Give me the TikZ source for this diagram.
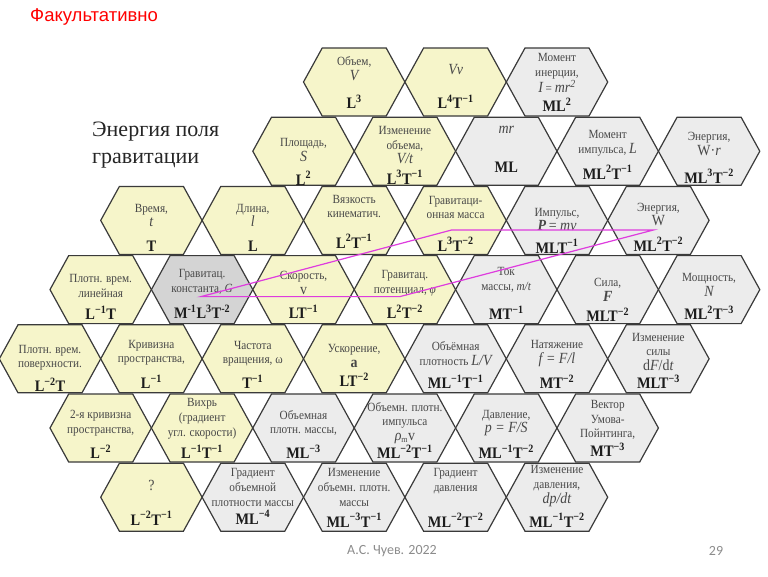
\documentclass[tikz,border=0pt]{standalone}
\usepackage{fontspec}
\setmainfont{Liberation Serif}
\newfontfamily\arialf{Liberation Sans}
\newfontfamily\footf{Carlito}
\newfontfamily\cellfont[FakeStretch=0.9]{Liberation Serif}
\usetikzlibrary{calc}
\definecolor{hexyellow}{RGB}{246,245,202}
\definecolor{hexgrey}{RGB}{236,236,236}
\definecolor{hexdark}{RGB}{212,212,212}
\definecolor{hexline}{RGB}{58,58,58}
\definecolor{lbltext}{RGB}{72,72,72}
\definecolor{dimtext}{RGB}{28,28,28}
\definecolor{magline}{RGB}{222,60,222}
\definecolor{footgrey}{RGB}{140,140,140}
\newcommand\sups[1]{\textsuperscript{#1}}
\newcommand\bigsym{\fontsize{15.5}{15.5}\selectfont}
% name, column, row, fill, label, label dy, dimension, dimension dy
\newcommand\hexcell[8]{%
  \pgfmathsetmacro\hx{50+50.7*#2}%
  \pgfmathsetmacro\hy{82+69.2*#3}%
  \coordinate (#1) at (\hx,\hy);
  \draw[hexborder,fill=#4,shift={(\hx,\hy)}] (-50.7,0) -- (-32,-34) -- (32,-34) -- (50.7,0) -- (32,34) -- (-32,34) -- cycle;
  \node[lbl] (#1-t) at (\hx,{\hy+#6}) {#5};
  \node[dimtxt] (#1-d) at (\hx,{\hy+#8}) {#7};
}
\tikzset{
  hexborder/.style={draw=hexline, line width=1.2pt, line join=miter},
  lbl/.style={align=center, inner sep=0pt, text=lbltext, font=\cellfont\fontsize{12.5}{14.8}\selectfont},
  dimtxt/.style={inner sep=0pt, text=dimtext, font=\cellfont\fontsize{16}{17}\selectfont\bfseries},
  magedge/.style={draw=magline, line width=1.2pt}
}
\begin{document}
\begin{tikzpicture}[x=1pt,y=-1pt]
\useasboundingbox (0,0) rectangle (768,576);
\fill[white] (0,0) rectangle (768,576);

\node[anchor=west, inner sep=0pt, text=red, font=\arialf\fontsize{18.5}{22}\selectfont] (title) at (30,17) {Факультативно};
\node[anchor=west, align=left, inner sep=0pt, text=black!85, font=\fontsize{22}{27.5}\selectfont] (heading) at (92,145) {Энергия поля\\гравитации};

% row 1
\hexcell{vol}{6}{0}{hexyellow}{Объем,\\{\bigsym\itshape V}}{-13}{L\sups{3}}{20}
\hexcell{vv}{8}{0}{hexyellow}{{\bigsym\itshape Vv}}{-12}{L\sups{4}T\sups{−1}}{20}
\hexcell{inert}{10}{0}{hexgrey}{Момент\\инерции,\\{\bigsym\itshape I} = {\bigsym\itshape mr\sups{2}}}{-9}{ML\sups{2}}{23}
% row 2
\hexcell{area}{5}{1}{hexyellow}{Площадь,\\{\bigsym\itshape S}}{-1}{L\sups{2}}{27}
\hexcell{dvol}{7}{1}{hexyellow}{Изменение\\объема,\\{\bigsym\itshape V/t}}{-6}{L\sups{3}T\sups{−1}}{26}
\hexcell{mr}{9}{1}{hexgrey}{{\bigsym\itshape mr}}{-21}{ML}{16}
\hexcell{angm}{11}{1}{hexgrey}{Момент\\импульса, {\bigsym\itshape L}}{-8}{ML\sups{2}T\sups{−1}}{21}
\hexcell{wr}{13}{1}{hexgrey}{Энергия,\\{\bigsym W·\textit{r}}}{-7}{ML\sups{3}T\sups{−2}}{25}
% row 3
\hexcell{time}{2}{2}{hexyellow}{Время,\\{\bigsym\itshape t}}{-5}{T}{26}
\hexcell{len}{4}{2}{hexyellow}{Длина,\\{\bigsym\itshape l}}{-5}{L}{26}
\hexcell{visc}{6}{2}{hexyellow}{Вязкость\\кинематич.}{-14}{L\sups{2}T\sups{−1}}{21}
\hexcell{gmass}{8}{2}{hexyellow}{Гравитаци-\\онная масса}{-13}{L\sups{3}T\sups{−2}}{24}
\hexcell{mom}{10}{2}{hexgrey}{Импульс,\\{\bigsym\bfseries\itshape P} {\bigsym = \itshape mv}}{-1}{MLT\sups{−1}}{26}
\hexcell{energy}{12}{2}{hexgrey}{Энергия,\\{\bigsym W}}{-6}{ML\sups{2}T\sups{−2}}{24}
% row 4
\hexcell{lintd}{1}{3}{hexyellow}{Плотн. врем.\\линейная}{-4}{L\sups{−1}T}{23}
\hexcell{gc}{3}{3}{hexdark}{Гравитац.\\константа, \textit{G}}{-8}{M\sups{-1}L\sups{3}T\sups{-2}}{22}
\hexcell{vel}{5}{3}{hexyellow}{Скорость,\\{\bigsym v}}{-7}{LT\sups{−1}}{22}
\hexcell{gp}{7}{3}{hexyellow}{Гравитац.\\потенциал, \textit{φ}}{-6}{L\sups{2}T\sups{−2}}{22}
\hexcell{mflow}{9}{3}{hexgrey}{Ток\\массы, \textit{m/t}}{-10}{MT\sups{−1}}{23}
\hexcell{force}{11}{3}{hexgrey}{Сила,\\{\bigsym\bfseries\itshape F}}{0}{MLT\sups{−2}}{25}
\hexcell{power}{13}{3}{hexgrey}{Мощность,\\{\bigsym\itshape N}}{-5}{ML\sups{2}T\sups{−3}}{23}
% row 5
\hexcell{surftd}{0}{4}{hexyellow}{Плотн. врем.\\поверхности.}{-1}{L\sups{−2}T}{26}
\hexcell{curv}{2}{4}{hexyellow}{Кривизна\\пространства,}{-6}{L\sups{−1}}{23}
\hexcell{freq}{4}{4}{hexyellow}{Частота\\вращения, ω}{-5}{T\sups{−1}}{23}
\hexcell{acc}{6}{4}{hexyellow}{Ускорение,\\{\bigsym\bfseries a}}{-3}{LT\sups{−2}}{21}
\hexcell{lvdens}{8}{4}{hexgrey}{Объёмная\\плотность {\bigsym\itshape L/V}}{-5}{ML\sups{−1}T\sups{−1}}{23}
\hexcell{tens}{10}{4}{hexgrey}{Натяжение\\{\bigsym\itshape f = F/l}}{-5}{MT\sups{−2}}{23}
\hexcell{dforce}{12}{4}{hexgrey}{Изменение\\силы\\{\bigsym d\textit{F}/d\textit{t}}}{-7}{MLT\sups{−3}}{23}
% row 6
\hexcell{curv2}{1}{5}{hexyellow}{2-я кривизна\\пространства,}{-5}{L\sups{−2}}{24}
\hexcell{vort}{3}{5}{hexyellow}{Вихрь\\(градиент\\угл. скорости)}{-9}{L\sups{−1}T\sups{−1}}{24}
\hexcell{mdens}{5}{5}{hexgrey}{Объемная\\плотн. массы,}{-5}{ML\sups{−3}}{24}
\hexcell{pdens}{7}{5}{hexgrey}{Объемн. плотн.\\импульса\\{\bigsym\itshape ρ}\textsubscript{m}{\bigsym v}}{-5}{ML\sups{−2}T\sups{−1}}{24}
\hexcell{press}{9}{5}{hexgrey}{Давление,\\{\bigsym\itshape p = F/S}}{-5}{ML\sups{−1}T\sups{−2}}{24}
\hexcell{umov}{11}{5}{hexgrey}{Вектор\\Умова-\\Пойнтинга,}{-8}{MT\sups{−3}}{22}
% row 7
\hexcell{quest}{2}{6}{hexyellow}{{\bigsym ?}}{-12}{L\sups{−2}T\sups{−1}}{21}
\hexcell{gmdens}{4}{6}{hexgrey}{Градиент\\объемной\\плотности массы}{-10}{ML\sups{−4}}{20}
\hexcell{dmdens}{6}{6}{hexgrey}{Изменение\\объемн. плотн.\\массы}{-10}{ML\sups{−3}T\sups{−1}}{23}
\hexcell{gpress}{8}{6}{hexgrey}{Градиент\\давления}{-16}{ML\sups{−2}T\sups{−2}}{23}
\hexcell{dpress}{10}{6}{hexgrey}{Изменение\\давления,\\{\bigsym\itshape dp/dt}}{-11}{ML\sups{−1}T\sups{−2}}{23}

% magenta parallelogram
\coordinate (pA) at ($(gc)+(-1,7)$);
\coordinate (pD) at ($(gp)+(-5,7)$);
\coordinate (pC) at ($(energy)+(-5,9.6)$);
\coordinate (pB) at ($(gmass)+(-4,9.6)$);
\draw[magedge] (pA) -- (pD) -- (pC) -- (pB) -- cycle;

\node[inner sep=0pt, text=footgrey, font=\footf\fontsize{14}{16}\selectfont] (footer) at (392,551) {А.С. Чуев. 2022};
\node[inner sep=0pt, text=footgrey, font=\footf\fontsize{14}{16}\selectfont] (pagenum) at (716,551) {29};
\end{tikzpicture}
\end{document}
